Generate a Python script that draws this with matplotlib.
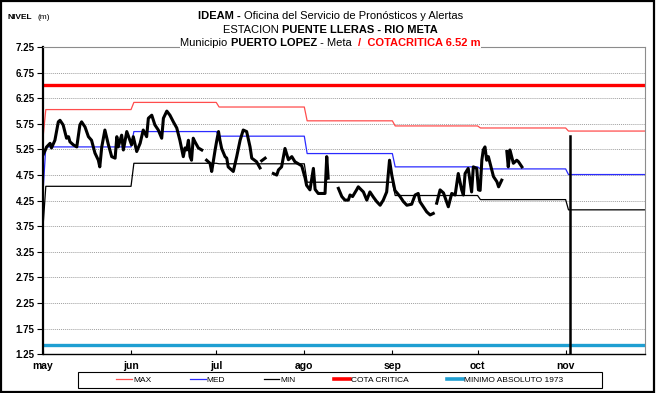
import matplotlib
matplotlib.use("Agg")
import matplotlib.pyplot as plt
import numpy as np
from matplotlib.lines import Line2D
from matplotlib.patches import Rectangle

plt.rcParams['font.family'] = ['Liberation Sans', 'DejaVu Sans']

# calendario: dia 0 = 1 de mayo
meses = ['may', 'jun', 'jul', 'ago', 'sep', 'oct', 'nov']
inicio_mes = [0, 31, 61, 92, 123, 153, 184]
fin_eje = 212

# niveles historicos mensuales (m)
niv_max = [6.03, 6.17, 6.08, 5.81, 5.71, 5.67, 5.61]
niv_med = [5.30, 5.60, 5.51, 5.17, 4.91, 4.87, 4.76]
niv_min = [4.53, 4.98, 4.97, 4.61, 4.35, 4.27, 4.07]
primer_dia = {'max': 5.47, 'med': 4.40, 'min': 3.72}

cota_critica = 6.52
minimo_1973 = 1.42
dia_corte = 185.5
nivel_corte = 5.52

# lecturas del año (nan = sin dato)
dia = [0, 1.3, 2.5, 3.0, 4.2, 5.4, 6.0, 7.1, 8.3, 9.0,
       9.5, 10.7, 11.9, 13.0, 13.6, 14.8, 16.0, 17.1, 18.3, 19.5,
       20.0, 20.7, 21.8, 23.0, 24.2, 25.4, 26.0, 26.5, 27.7, 28.3,
       29.5, 30.6, 31.2, 31.8, 33.0, 34.2, 35.3, 36.5, 37.1, 38.3,
       39.4, 40.6, 41.8, 42.4, 43.6, 44.7, 45.9, 47.1, 48.2, 49.4,
       50.0, 50.6, 51.2, 51.8, 52.3, 52.9, 53.5, 54.7, 55.9, 56.5,
       57.6, 58.8, 59.4, 60.6, 61.2, 61.8, 62.3, 62.9, 64.1, 64.7,
       65.2, 67.0, 68.2, 69.4, 70.5, 71.7, 72.9, 73.5, 75.2, 76.4,
       76.7, 77.0, 78.2, 79.0, 81.1, 82.3, 82.9, 84.0, 85.2, 86.4,
       87.6, 88.7, 91.1, 92.3, 92.8, 94.0, 95.2, 95.8, 96.9, 98.1,
       99.3, 99.9, 100.4, 102.0, 104.0, 105.2, 106.3, 107.5, 108.1, 109.0,
       110.4, 111.0, 112.8, 114.0, 115.1, 116.3, 117.5, 118.7, 119.8, 121.0,
       122.0, 122.8, 123.9, 125.7, 126.9, 128.1, 129.8, 131.0, 132.1, 132.7,
       133.9, 135.1, 136.3, 137.4, 138.0, 138.6, 139.8, 141.0, 142.7, 143.9,
       145.1, 146.2, 147.4, 148.0, 148.6, 149.7, 150.9, 151.5, 152.7, 153.3,
       153.9, 154.5, 155.0, 155.6, 156.2, 156.8, 157.4, 158.6, 159.8, 160.4,
       161.5, 162.4, 163.3, 163.8, 164.4, 165.0, 165.6, 166.8, 167.4, 168.6]
nivel = [5.14, 5.30, 5.37, 5.28, 5.43, 5.79, 5.82, 5.73, 5.47, 5.50,
         5.40, 5.34, 5.30, 5.73, 5.79, 5.69, 5.50, 5.43, 5.18, 5.04,
         4.91, 5.30, 5.63, 5.35, 5.11, 5.08, 5.50, 5.30, 5.53, 5.24,
         5.60, 5.43, 5.34, 5.50, 5.21, 5.37, 5.63, 5.50, 5.86, 5.92,
         5.73, 5.63, 5.47, 5.86, 6.00, 5.92, 5.79, 5.67, 5.43, 5.11,
         5.28, 5.24, 5.43, 5.11, 5.04, 5.47, 5.40, 5.28, 5.24, np.nan,
         5.04, 4.98, 4.82, 5.24, 5.43, 5.60, 5.43, 5.27, 5.11, 5.08,
         4.91, 4.82, 5.11, 5.43, 5.63, 5.60, 5.30, 5.08, 5.01, 4.89,
         np.nan, 5.03, 5.08, np.nan, 4.78, 4.75, 4.85, 4.91, 5.27, 5.05,
         5.11, 5.01, 4.93, 4.69, 4.55, 4.46, 4.88, 4.47, 4.39, 4.39,
         4.39, 5.11, 4.69, np.nan, 4.49, 4.33, 4.26, 4.26, 4.36, 4.33,
         4.46, 4.52, 4.42, 4.26, 4.42, 4.32, 4.23, 4.16, 4.26, 4.42,
         5.04, 4.75, 4.45, 4.33, 4.23, 4.16, 4.18, 4.36, 4.39, 4.23,
         4.13, 4.03, 3.97, 4.00, np.nan, 4.20, 4.46, 4.40, 4.13, 4.39,
         4.36, 4.78, 4.46, 4.36, 4.78, 4.88, 4.42, 4.91, 4.88, 4.46,
         4.45, 5.04, 5.24, 5.30, 5.04, 5.11, 4.98, 4.72, 4.62, 4.52,
         4.65, np.nan, 5.21, 4.91, 5.24, 5.11, 4.98, 5.04, 5.01, 4.91]


def escalon(valores, v0):
    # una linea horizontal por mes, el primer dia aparte
    xs, ys = [0], [v0]
    bordes = inicio_mes + [fin_eje]
    for i, v in enumerate(valores):
        xs += [bordes[i] + 1, bordes[i + 1]]
        ys += [v, v]
    return xs, ys


fig = plt.figure(figsize=(6.56, 3.93), dpi=100)
ax = fig.add_axes([0.0655, 0.099, 0.918, 0.781])

c_max, c_med, c_cota, c_min73 = '#ff4d4d', '#2b2bff', '#ff0000', '#1f9fd2'

x, y = escalon(niv_max, primer_dia['max'])
ax.plot(x, y, color=c_max, lw=0.9)
x, y = escalon(niv_med, primer_dia['med'])
ax.plot(x, y, color=c_med, lw=0.9)
x, y = escalon(niv_min, primer_dia['min'])
ax.plot(x, y, color='black', lw=0.9)
ax.axhline(cota_critica, color=c_cota, lw=2.4)
ax.axhline(minimo_1973, color=c_min73, lw=2.4)
ax.plot(dia, nivel, color='black', lw=2.2, solid_joinstyle='round')
ax.plot([dia_corte, dia_corte], [1.25, nivel_corte], color='black', lw=1.8)

ax.set_xlim(0, fin_eje)
ax.set_ylim(1.25, 7.25)
yt = np.arange(1.25, 7.26, 0.5)
ax.set_yticks(yt)
ax.set_yticklabels(['%.2f' % v for v in yt], fontsize=7, fontweight='bold')
ax.set_xticks(inicio_mes)
ax.set_xticklabels(meses, fontsize=7.5, fontweight='bold')
ax.tick_params(axis='y', direction='out', length=4, width=0.8, pad=2)
ax.tick_params(axis='x', direction='in', length=3, width=0.8, pad=5)
ax.grid(axis='y', color='#a0a0a0', ls=(0, (1, 1)), lw=0.7)
ax.set_axisbelow(True)
ax.spines['left'].set_linewidth(1.6)
ax.spines['bottom'].set_linewidth(1.0)
for s in ['top', 'right']:
    ax.spines[s].set_color('#8c8c8c')
    ax.spines[s].set_linewidth(0.8)

# leyenda sin marco; el recuadro va aparte
items = [Line2D([], [], color=c_max, lw=0.9),
         Line2D([], [], color=c_med, lw=0.9),
         Line2D([], [], color='black', lw=0.9),
         Line2D([], [], color=c_cota, lw=2.6),
         Line2D([], [], color=c_min73, lw=2.6)]
nombres = ['MAX', 'MED', 'MIN', 'COTA CRITICA', 'MINIMO ABSOLUTO 1973']
fig.legend(items, nombres, ncol=5, loc='center', bbox_to_anchor=(0.518, 0.0325),
           fontsize=6, frameon=False, handlelength=1.9, handletextpad=0.15,
           columnspacing=4.6, borderpad=0.2)
fig.patches.append(Rectangle((78 / 656, 5 / 393), 524 / 656, 16 / 393,
                             transform=fig.transFigure, fill=False, ec='black', lw=0.8))


def linea(piezas, xc, yf, size=8):
    # texto centrado hecho de trozos con distinto estilo
    r = fig.canvas.get_renderer()
    ts = []
    for s, kw in piezas:
        ts.append(fig.text(0, yf, s, fontsize=size, va='baseline',
                           bbox=dict(fc='white', ec='none', pad=0.3), **kw))
    ws = [t.get_window_extent(r).width for t in ts]
    W = fig.bbox.width
    xx = xc * W - sum(ws) / 2
    for t, w in zip(ts, ws):
        t.set_x(xx / W)
        xx += w


linea([('IDEAM - ', {'fontweight': 'bold'}),
       ('Oficina del Servicio de Pronósticos y Alertas', {})], 0.504, 0.952)
linea([('ESTACION ', {}),
       ('PUENTE LLERAS - RIO META', {'fontweight': 'bold'})], 0.504, 0.917)
linea([('Municipio ', {}),
       ('PUERTO LOPEZ', {'fontweight': 'bold'}),
       (' - Meta  ', {}),
       ('/  COTACRITICA 6.52 m', {'fontweight': 'bold', 'color': c_cota})], 0.504, 0.884)

fig.text(0.012, 0.952, 'NIVEL', fontsize=6, fontweight='bold', va='baseline')
fig.text(0.057, 0.952, '(m)', fontsize=6, va='baseline')

fig.patches.append(Rectangle((0.002, 0.003), 0.995, 0.994, transform=fig.transFigure,
                             fill=False, ec='black', lw=1.6))

fig.savefig('out.png', dpi=100)
